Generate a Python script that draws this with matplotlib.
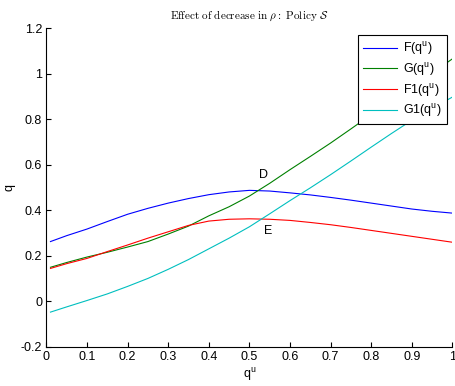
import matplotlib
matplotlib.use("Agg")
import matplotlib.pyplot as plt

plt.rcParams['font.family'] = ['Liberation Sans', 'DejaVu Sans']

# sampled q^u values and curve values
qu = [0.01, 0.05, 0.1, 0.15, 0.2, 0.25, 0.3, 0.35, 0.4, 0.45, 0.5,
      0.55, 0.6, 0.65, 0.7, 0.75, 0.8, 0.85, 0.9, 0.95, 1.0]
F = [0.262, 0.288, 0.317, 0.350, 0.382, 0.408, 0.431, 0.451, 0.468, 0.480, 0.487,
     0.484, 0.476, 0.467, 0.456, 0.444, 0.431, 0.418, 0.405, 0.395, 0.387]
G = [0.149, 0.170, 0.194, 0.215, 0.238, 0.262, 0.295, 0.330, 0.375, 0.415, 0.462,
     0.518, 0.578, 0.636, 0.695, 0.757, 0.820, 0.880, 0.940, 1.002, 1.065]
F1 = [0.144, 0.165, 0.188, 0.218, 0.247, 0.277, 0.305, 0.333, 0.352, 0.360, 0.362,
      0.360, 0.355, 0.346, 0.336, 0.324, 0.311, 0.298, 0.285, 0.272, 0.259]
G1 = [-0.048, -0.025, 0.003, 0.032, 0.065, 0.100, 0.140, 0.183, 0.230, 0.277, 0.327,
      0.384, 0.442, 0.498, 0.556, 0.616, 0.677, 0.737, 0.795, 0.847, 0.897]

labels = ['F(q$^\\mathregular{u}$)', 'G(q$^\\mathregular{u}$)',
          'F1(q$^\\mathregular{u}$)', 'G1(q$^\\mathregular{u}$)']
colors = ['#0000ff', '#008000', '#ff0000', '#00bfbf']

xticks = [0, 0.1, 0.2, 0.3, 0.4, 0.5, 0.6, 0.7, 0.8, 0.9, 1]
xticklabels = ['0', '0.1', '0.2', '0.3', '0.4', '0.5', '0.6', '0.7', '0.8', '0.9', '1']
yticks = [-0.2, 0, 0.2, 0.4, 0.6, 0.8, 1.0, 1.2]
yticklabels = ['-0.2', '0', '0.2', '0.4', '0.6', '0.8', '1', '1.2']

fig = plt.figure(figsize=(4.55, 3.86), dpi=100)
ax = fig.add_axes([0.102, 0.1018, 0.8923, 0.8254])

for y, lab, c in zip([F, G, F1, G1], labels, colors):
    ax.plot(qu, y, color=c, lw=0.8, label=lab)

ax.set_xlim(0, 1)
ax.set_ylim(-0.2, 1.2)
ax.set_xticks(xticks)
ax.set_xticklabels(xticklabels)
ax.set_yticks(yticks)
ax.set_yticklabels(yticklabels)
ax.tick_params(direction='in', length=3.5, width=0.8, labelsize=9, pad=3,
               top=False, right=False)
for s in ['top', 'right']:
    ax.spines[s].set_visible(False)
for s in ['left', 'bottom']:
    ax.spines[s].set_linewidth(0.8)

ax.set_xlabel('q$^\\mathregular{u}$', fontsize=9, labelpad=2)
ax.set_ylabel('q', fontsize=9, labelpad=4)

ax.set_title(r'$\mathrm{Effect\ of\ decrease\ in\ }\rho\mathrm{:\ Policy\ }\mathcal{S}$',
             fontsize=8, math_fontfamily='cm', pad=7)

ax.text(0.534, 0.556, 'D', fontsize=9, ha='center', va='center')
ax.text(0.545, 0.307, 'E', fontsize=9, ha='center', va='center')

leg = ax.legend(loc='upper right', bbox_to_anchor=(0.9865, 0.978), borderaxespad=0,
                fontsize=9, handlelength=2.7, fancybox=False, framealpha=1,
                edgecolor='black', labelspacing=0.3, borderpad=0.4, handletextpad=0.5)
leg.get_frame().set_linewidth(0.8)

fig.savefig('out.png', dpi=100)
